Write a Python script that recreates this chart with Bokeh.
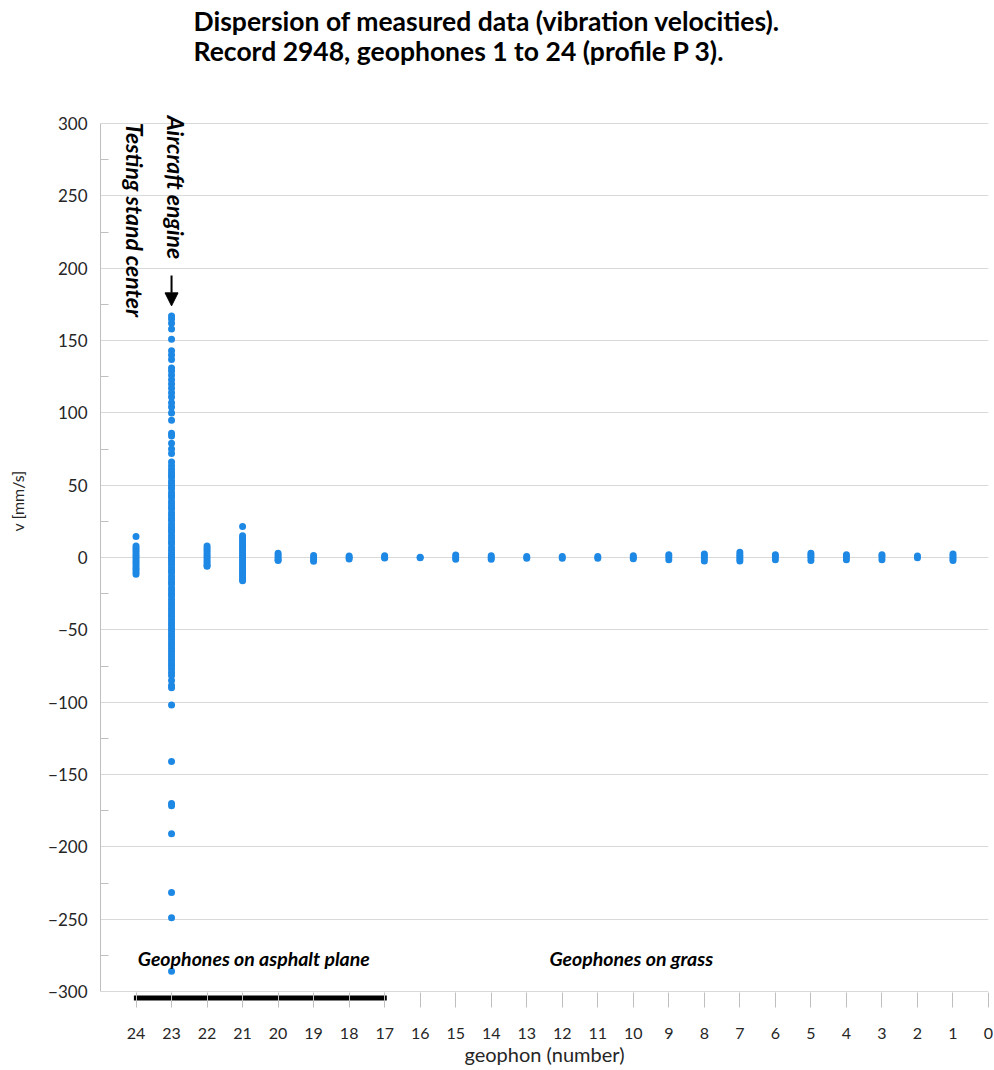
from bokeh.plotting import figure
from bokeh.models import Range1d, FixedTicker, Label, Arrow, NormalHead, ColumnDataSource
from bokeh.embed import file_html
from bokeh.resources import INLINE

# ---------------- data ----------------
geophones = list(range(24, 0, -1))

v24 = [14.5, 8, 6.5, 5, 3.5, 2, 0.5, -1, -2.5, -4, -5.5, -7, -8.5, -10, -11.5]
v23 = [167, 165, 162, 158, 151, 143, 140, 137, 131, 129, 126, 123, 120, 117, 114,
       111, 107, 104, 100, 95, 86, 84, 79, 75, 72, 66,
       63.5, 61, 59, 57, 55.5, 53, 51, 49, 47.5, 45, 43, 41.5, 39, 37, 35, 33.5, 31,
       29, 27, 25.5, 23, 21, 19, 17.5, 15, 13, 11, 9.5, 7, 5, 3, 1.5, 0, -1.5, -3,
       -5, -7, -9, -10.5, -13, -15, -17, -18.5, -21, -23, -25, -26.5, -29, -31, -33,
       -35, -37, -39, -41, -43, -45, -47, -49, -51, -53, -55, -57, -59, -61, -63,
       -65, -67, -69, -71, -73, -75, -77, -79.5, -81.5, -85, -88.5, -90,
       -102, -141, -170, -171.5, -191, -231.5, -249, -286]
v22 = [8, 6.5, 5, 3.5, 2, 0.5, -1, -2.5, -4, -5.5, -6]
v21 = [21.5, 15, 13.5, 12, 10.5, 9, 7.5, 6, 4.5, 3, 1.5, 0, -1.5, -3, -4.5, -6,
       -7.5, -9, -10.5, -12, -13.5, -15, -16]
v20 = [3, 1.5, 0, -1.5, -2]
v19 = [1.5, 0, -1.5, -2.5]
v18 = [1, 0, -1]
v17 = [1.3, 0, -0.3]
v16 = [0.3, -0.2]
v15 = [1.7, 0.3, -1.1]
v14 = [1.2, 0, -1.1]
v13 = [0.8, -0.4]
v12 = [0.8, -0.4]
v11 = [0.8, -0.4]
v10 = [1.3, 0, -0.8]
v9 = [2, 0.5, -1.5]
v8 = [2.4, 1, -0.5, -2.4]
v7 = [3.6, 2, 0.5, -1, -2.4]
v6 = [2, 0.5, -1.5]
v5 = [2.9, 1.5, 0, -2]
v4 = [2, 0.5, -1.5]
v3 = [2, 0.5, -1.5]
v2 = [1.1, -0.2]
v1 = [2.4, 1, -0.5, -2]

all_values = [v24, v23, v22, v21, v20, v19, v18, v17, v16, v15, v14, v13,
              v12, v11, v10, v9, v8, v7, v6, v5, v4, v3, v2, v1]

x_ticks = list(range(0, 25))
y_ticks = list(range(-300, 301, 50))
y_minor_ticks = list(range(-275, 300, 50))
asphalt_span = [24, 17]

title_lines = ["Dispersion of measured data (vibration velocities).",
               "Record 2948, geophones 1 to 24 (profile P 3)."]

# ---------------- build ----------------
xs, ys = [], []
for g, vals in zip(geophones, all_values):
    xs += [g] * len(vals)
    ys += vals
src = ColumnDataSource(data=dict(x=xs, y=ys))

FONT = "Lato"
GRID = "#d9d9d9"
TXT = "#262626"

# frame covers the whole upper area so the title can sit inside it
p = figure(width=994, height=1070,
           x_range=Range1d(25, 0), y_range=Range1d(-306.9, 385.1),
           output_backend="svg", toolbar_location=None,
           min_border_left=100, min_border_right=6,
           min_border_top=0, min_border_bottom=69)
p.outline_line_color = None
p.background_fill_color = "white"
p.border_fill_color = "white"

# asphalt bar (just below the -300 line)
p.segment(x0=[asphalt_span[0] + 0.06], x1=[asphalt_span[1] - 0.06],
          y0=[-304.5], y1=[-304.5], line_color="black", line_width=5)

p.scatter("x", "y", source=src, size=7, color="#1E88E5", line_color=None)

# y axis
yt = FixedTicker(ticks=y_ticks, minor_ticks=y_minor_ticks)
p.yaxis.ticker = yt
p.yaxis.bounds = (-300, 300)
p.yaxis.axis_line_color = "#bfbfbf"
p.yaxis.major_tick_line_color = None
p.yaxis.minor_tick_line_color = "#bfbfbf"
p.yaxis.minor_tick_in = 8
p.yaxis.minor_tick_out = 0
p.yaxis.major_label_standoff = 7
p.yaxis.major_label_text_font = FONT
p.yaxis.major_label_text_font_size = "17px"
p.yaxis.major_label_text_color = TXT
p.yaxis.axis_label = "v [mm/s]"
p.yaxis.axis_label_text_font = FONT
p.yaxis.axis_label_text_font_style = "normal"
p.yaxis.axis_label_text_font_size = "16px"
p.yaxis.axis_label_text_color = TXT
p.yaxis.axis_label_standoff = 18

# x axis (the -300 grid line acts as its line)
p.xaxis.ticker = FixedTicker(ticks=x_ticks)
p.xaxis.bounds = (0, 24)
p.xaxis.axis_line_color = None
p.xaxis.major_tick_line_color = "#bfbfbf"
p.xaxis.major_tick_in = 9
p.xaxis.major_tick_out = 6
p.xaxis.minor_tick_line_color = None
p.xaxis.major_label_standoff = 20
p.xaxis.major_label_text_font = FONT
p.xaxis.major_label_text_font_size = "16px"
p.xaxis.major_label_text_color = TXT
p.xaxis.axis_label = "geophon (number)"
p.xaxis.axis_label_text_font = FONT
p.xaxis.axis_label_text_font_style = "normal"
p.xaxis.axis_label_text_font_size = "20px"
p.xaxis.axis_label_text_color = TXT
p.xaxis.axis_label_standoff = 0

p.xgrid.grid_line_color = None
p.ygrid.ticker = FixedTicker(ticks=y_ticks)
p.ygrid.grid_line_color = GRID
p.ygrid.grid_line_width = 1

# titles (inside the top of the frame)
for txt, yv in zip(title_lines, [371.2, 350.5]):
    p.add_layout(Label(x=22.38, y=yv, text=txt, text_font=FONT,
                       text_font_style="bold", text_font_size="26.5px", text_color="black",
                       text_baseline="middle", text_align="left"))

# rotated annotations
p.add_layout(Label(x=24.04, y=300.6, text="Testing stand center", angle=-1.5707963,
                   text_font=FONT, text_font_style="bold italic", text_font_size="23px",
                   text_color="black", text_align="left", text_baseline="middle"))
p.add_layout(Label(x=22.87, y=305.5, text="Aircraft engine", angle=-1.5707963,
                   text_font=FONT, text_font_style="bold italic", text_font_size="23px",
                   text_color="black", text_align="left", text_baseline="middle"))
p.add_layout(Arrow(x_start=23, y_start=195, x_end=23, y_end=174, line_color="black",
                   line_width=2,
                   end=NormalHead(size=13, fill_color="black", line_color="black")))

# ground labels
p.add_layout(Label(x=23.95, y=-277.2, text="Geophones on asphalt plane",
                   text_font=FONT, text_font_style="bold italic", text_font_size="19.5px",
                   text_color="black", text_align="left", text_baseline="middle"))
p.add_layout(Label(x=12.36, y=-277.2, text="Geophones on grass",
                   text_font=FONT, text_font_style="bold italic", text_font_size="19.5px",
                   text_color="black", text_align="left", text_baseline="middle"))

open("out.html", "w").write(file_html(p, INLINE))
